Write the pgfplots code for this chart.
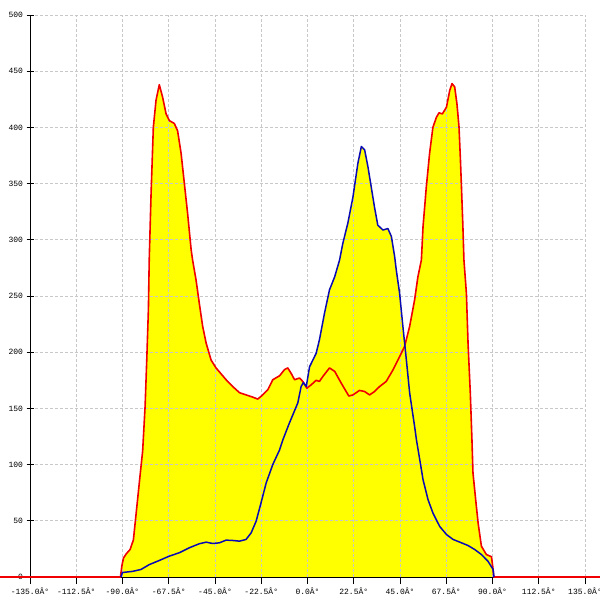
\documentclass[border=0pt]{standalone}
\usepackage{fontspec}
\setmonofont{Liberation Mono}
\usepackage{pgfplots}
\pgfplotsset{compat=1.18}
\definecolor{myblue}{RGB}{10,10,180}
\definecolor{myred}{RGB}{240,0,0}
\definecolor{myyellow}{RGB}{255,255,0}
\definecolor{gridgray}{RGB}{200,200,200}
\pgfplotstableread{
x y
-150 0
-91 0
-90.3 10
-89.5 17
-88 21
-86.3 24.5
-84.7 33
-83 63
-81.3 93
-80.2 112
-79.0 152
-78.2 193
-77.4 238
-77.0 282
-76.1 341
-75.0 400
-73.7 424
-72.1 438
-70.5 427
-68.8 412
-67.2 406
-64.8 403.5
-63.2 397
-61.5 377
-59.9 350
-58.3 323
-56.6 291
-55.9 282
-54.2 264
-52.6 243
-51.0 223
-49.3 208
-46.9 193
-44.5 186
-39.6 175.5
-36.4 169.5
-33.1 164
-29.9 162
-26.6 160
-24.2 158.3
-21.8 162
-19.3 166.6
-16.9 175.5
-13.6 179
-11.2 184.5
-9.6 186
-7.9 181
-6.3 175.5
-3.9 177
-2.3 174
-0.3 168
1.8 171
4.2 175
5.8 174
7.5 178.5
10.7 186
13.2 183
16.4 172.5
20.1 161
22.1 162
25.3 166
27.8 165
30.2 162
32.6 165
35.1 169.5
38.3 174
41.5 184
44.8 196
47.2 205
49.7 223
52.1 246.5
53.7 267
55.4 282
56.2 311.6
57.8 347
59.4 377
61.0 400
62.7 409
64.0 413
65.6 412
67.6 418
69.2 433
70.3 439
71.6 436
72.7 421
73.7 400.5
74.4 371
74.9 347
75.6 311.6
76.1 282
77.3 252.5
78.1 208
79.2 163.7
80.0 122
80.5 92.6
81.8 69
83.0 48
84.6 27.4
87.0 20
89.5 18
90.2 8
90.6 0
142.2 0
}\redtable
\pgfplotstableread{
x y
-90.8 0
-90.0 4
-85.1 5
-81.0 6.7
-77.0 11
-72.1 14.7
-67.2 18.6
-62.3 21.6
-57.5 26
-52.6 29.6
-49.3 31
-46.1 29.8
-42.9 30.4
-39.6 32.8
-36.4 32.5
-33.1 31.9
-29.9 33.4
-27.4 39.3
-25.0 49.6
-22.6 66
-20.1 83.7
-16.9 100
-13.6 113
-12.0 122
-8.8 137
-4.7 155
-3.1 169.5
-2.0 173
-0.6 169.5
1.0 187
2.6 193
4.2 199
5.8 211
8.3 235
10.7 255.5
13.2 267
15.6 282
17.2 297
19.6 314.6
22.1 338
24.5 368
26.2 383
27.8 380
29.4 365
31.0 347
32.6 329
34.2 313
36.7 308.7
39.1 310
40.8 303
42.4 285
43.2 273
44.8 252.5
46.4 223
48.1 193
49.7 163.7
52.1 134
53.0 122
54.6 104.5
56.2 86.7
58.6 69
61.0 57
64.3 45
67.6 37.8
70.8 33.4
74.9 30.4
78.1 28
81.3 24.5
84.6 20
87.8 14
90.3 6.7
90.7 0
}\bluetable
\begin{document}
\begin{tikzpicture}
\begin{axis}[
  name=ax, set layers,
  scale only axis, width=555pt, height=562pt,
  xmin=-135, xmax=135, ymin=0, ymax=500,
  axis x line=bottom, axis y line=left,
  axis line style={-, black, line width=0.9pt},
  xtick={-135,-112.5,-90,-67.5,-45,-22.5,0,22.5,45,67.5,90,112.5,135},
  xticklabels={-135.0Â°,-112.5Â°,-90.0Â°,-67.5Â°,-45.0Â°,-22.5Â°,0.0Â°,22.5Â°,45.0Â°,67.5Â°,90.0Â°,112.5Â°,135.0Â°},
  ytick={0,50,...,500},
  grid=major,
  major grid style={gridgray, dash pattern=on 2.5pt off 2.5pt, line width=0.8pt},
  tick style={black, line width=0.9pt},
  xtick align=outside, ytick align=center,
  major tick length=7pt,
  ticklabel style={font=\ttfamily\fontsize{8}{9}\selectfont},
  /pgf/number format/assume math mode=true,
  clip=false,
]
\addplot[on layer=axis background, fill=myyellow, draw=none] table[x=x,y=y] {\redtable} \closedcycle;
\addplot[on layer=axis background, fill=myyellow, draw=none] table[x=x,y=y] {\bluetable} \closedcycle;
\addplot[myred, line width=1.6pt, line join=round] table[x=x,y=y] {\redtable};
\addplot[myblue, line width=1.5pt, line join=round] table[x=x,y=y] {\bluetable};
\end{axis}
\pgfresetboundingbox
\path ([shift={(-30pt,-23pt)}]ax.south west) rectangle ([shift={(15pt,15pt)}]ax.north east);
\end{tikzpicture}
\end{document}
